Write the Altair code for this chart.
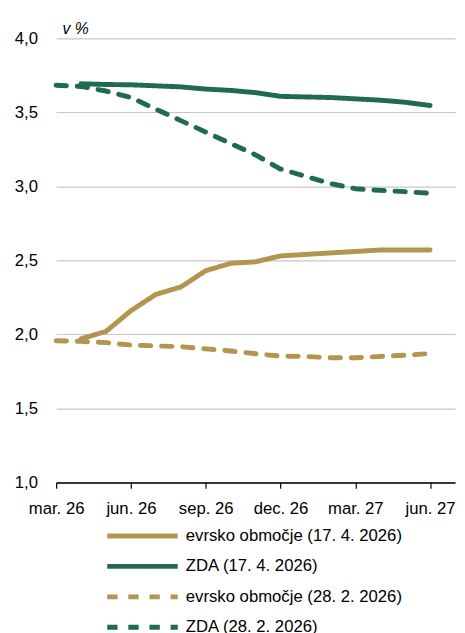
import json
import altair as alt
import pandas as pd

# month index 0 = mar. 26 ... 15 = jun. 27
months = list(range(16))
tick_values = [0, 3, 6, 9, 12, 15]
tick_labels = ["mar. 26", "jun. 26", "sep. 26", "dec. 26", "mar. 27", "jun. 27"]
y_ticks = [1.0, 1.5, 2.0, 2.5, 3.0, 3.5, 4.0]

series_names = [
    "evrsko območje (17. 4. 2026)",
    "ZDA (17. 4. 2026)",
    "evrsko območje (28. 2. 2026)",
    "ZDA (28. 2. 2026)",
]
ea_new = [None, 1.97, 2.02, 2.16, 2.27, 2.32, 2.43, 2.48, 2.49, 2.53, 2.54, 2.55, 2.56, 2.57, 2.57, 2.57]
us_new = [None, 3.693, 3.688, 3.686, 3.679, 3.672, 3.657, 3.648, 3.633, 3.608, 3.604, 3.600, 3.591, 3.582, 3.568, 3.546]
ea_old = [1.957, 1.953, 1.944, 1.928, 1.922, 1.917, 1.902, 1.888, 1.869, 1.853, 1.851, 1.842, 1.842, 1.851, 1.859, 1.871]
us_old = [3.683, 3.675, 3.644, 3.600, 3.522, 3.444, 3.367, 3.290, 3.212, 3.117, 3.068, 3.019, 2.984, 2.973, 2.964, 2.953]

colors = ["#B3954F", "#1F6B50", "#B3954F", "#1F6B50"]
dashes = [[1, 0], [1, 0], [10.5, 11], [10.5, 11]]

rows = []
for name, vals in zip(series_names, [ea_new, us_new, ea_old, us_old]):
    for m, v in zip(months, vals):
        if v is not None:
            rows.append({"month": m, "value": v, "series": name})
df = pd.DataFrame(rows)

label_expr = json.dumps(tick_labels) + "[datum.value / 3]"
FONT = "Liberation Sans"

legend = alt.Legend(
    title=None,
    orient="none",
    legendX=47,
    legendY=498,
    direction="vertical",
    symbolType="M-1,0H19.5",
    symbolSize=49,
    symbolStrokeWidth=5,
    labelFontSize=17,
    labelFont=FONT,
    labelColor="#000000",
    labelLimit=400,
    rowPadding=10,
    labelOffset=68,
    padding=0,
)

chart = (
    alt.Chart(df)
    .mark_line(strokeWidth=5, strokeCap="round", strokeJoin="round")
    .encode(
        x=alt.X(
            "month:Q",
            scale=alt.Scale(domain=[0, 16], nice=False, zero=False),
            axis=alt.Axis(
                values=tick_values,
                labelExpr=label_expr,
                title=None,
                grid=False,
                domainColor="#000000",
                domainWidth=1.5,
                tickColor="#000000",
                tickSize=6,
                tickWidth=1.2,
                labelFontSize=17,
                labelFont=FONT,
                labelColor="#000000",
                labelPadding=13,
                labelOverlap=False,
                labelFlush=False,
            ),
        ),
        y=alt.Y(
            "value:Q",
            scale=alt.Scale(domain=[1, 4], nice=False, zero=False),
            axis=alt.Axis(
                values=y_ticks,
                labelExpr="replace(format(datum.value, '.1f'), '.', ',')",
                title="v %",
                titleAngle=0,
                titleAlign="left",
                titleBaseline="alphabetic",
                titleX=6,
                titleY=-5,
                titleFontSize=16,
                titleFontWeight="normal",
                titleFontStyle="italic",
                titleFont=FONT,
                titleColor="#000000",
                domain=False,
                ticks=False,
                gridColor="#C6C6C6",
                gridWidth=1.2,
                labelFontSize=17,
                labelFont=FONT,
                labelColor="#000000",
                labelPadding=19,
                labelFlush=False,
            ),
        ),
        color=alt.Color(
            "series:N",
            scale=alt.Scale(domain=series_names, range=colors),
            legend=legend,
        ),
        strokeDash=alt.StrokeDash(
            "series:N",
            scale=alt.Scale(domain=series_names, range=dashes),
            legend=legend,
        ),
        order=alt.Order("series:N"),
    )
    .properties(
        width=406,
        height=452,
        autosize=alt.AutoSizeParams(type="none"),
        padding={"left": 49, "top": 25, "right": 2, "bottom": 180},
    )
    .configure_view(stroke=None)
)

chart.save("out.html", embed_options={"renderer": "svg", "actions": False})
